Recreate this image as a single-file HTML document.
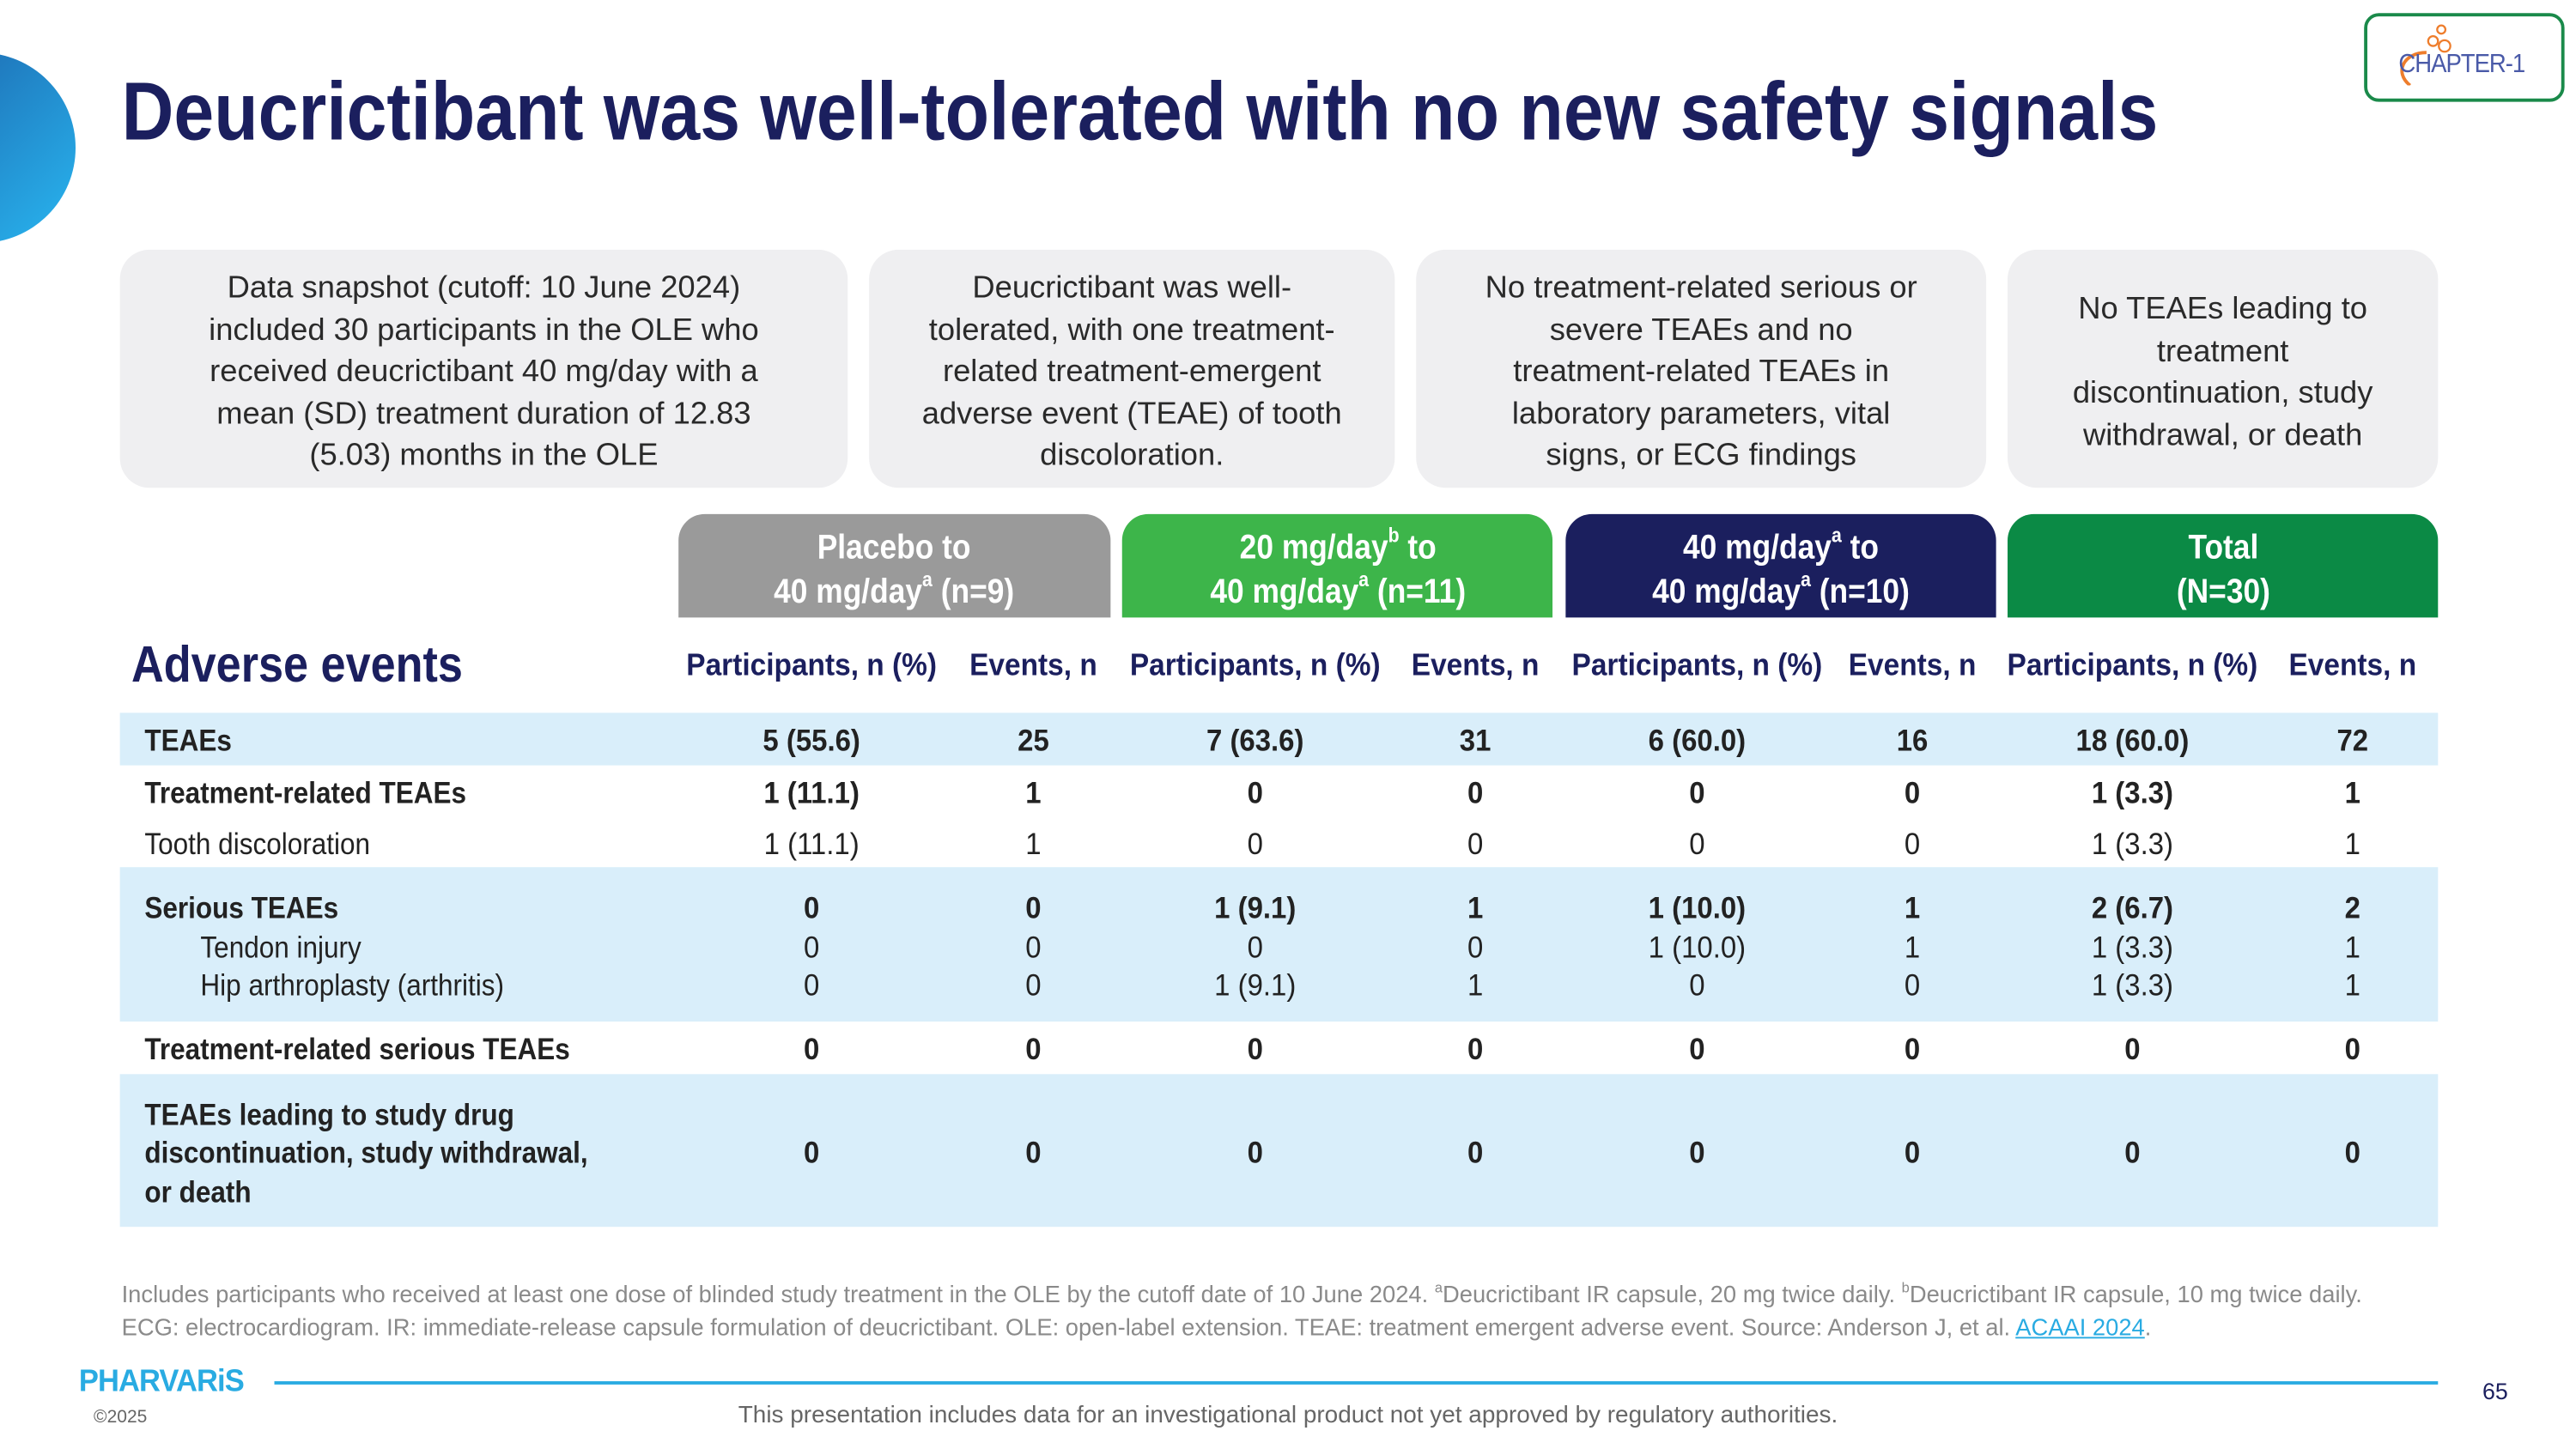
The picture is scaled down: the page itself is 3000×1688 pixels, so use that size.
<!DOCTYPE html>
<html><head><meta charset="utf-8"><style>
html,body{margin:0;padding:0;background:#fff;width:3000px;height:1687px;overflow:hidden}
#s{position:absolute;left:0;top:0;width:1568px;height:882px;transform:scale(1.91327);transform-origin:0 0;font-family:"Liberation Sans",sans-serif;color:#222}
.a{position:absolute}
.box{position:absolute;top:152px;height:145px;box-sizing:border-box;padding-top:5px;background:#efeff1;border-radius:18px;display:flex;align-items:center;justify-content:center;text-align:center;font-size:19px;line-height:25.5px;color:#2a2a2a}
.tab{position:absolute;top:313px;height:63px;box-sizing:border-box;padding-top:4px;border-radius:16px 16px 0 0;color:#fff;font-weight:bold;font-size:21px;line-height:27px;display:flex;align-items:center;justify-content:center;text-align:center}
.tab span{display:inline-block;transform:scaleX(.88);white-space:nowrap}
.ch{position:absolute;top:395px;font-size:19px;font-weight:bold;color:#1b1f5e;transform:translateX(-50%) scaleX(.92);white-space:nowrap}
.band{position:absolute;left:73px;width:1411px;background:#d9eefa}
.lbl{position:absolute;left:88px;font-size:18.5px;white-space:nowrap;transform:scaleX(.89);transform-origin:0 0}
.v{position:absolute;font-size:18.5px;transform:translateX(-50%) scaleX(.93);white-space:nowrap}
.b{font-weight:bold}
sup{font-size:60%;vertical-align:top;line-height:1}
</style></head><body>
<div id="s">
<svg class="a" style="left:0;top:20px" width="50" height="145"><defs><linearGradient id="g" x1="0" y1="0" x2="1" y2="1"><stop offset="0" stop-color="#1b5fa8"/><stop offset="1" stop-color="#29b6f0"/></linearGradient></defs><circle cx="-12" cy="70" r="58" fill="url(#g)"/></svg>
<div class="a b" style="left:74px;top:39px;font-size:50px;color:#1b1f5e;white-space:nowrap;transform:scaleX(.88);transform-origin:0 0">Deucrictibant was well-tolerated with no new safety signals</div>
<div class="a" style="left:1439px;top:8px;width:122px;height:54px;border:2.5px solid #1a8a4a;border-radius:9px;box-sizing:border-box;background:#fff">
<svg class="a" style="left:14px;top:2px" width="40" height="40"><circle cx="31" cy="6" r="2.5" fill="none" stroke="#ee7d2c" stroke-width="1.2"/><circle cx="26" cy="13" r="3" fill="none" stroke="#ee7d2c" stroke-width="1.2"/><circle cx="33" cy="16" r="3.5" fill="none" stroke="#ee7d2c" stroke-width="1.2"/><path d="M22 20 C8 20 2 32 12 40" fill="none" stroke="#ee7d2c" stroke-width="2"/></svg>
<div class="a" style="left:19px;top:21px;font-size:16px;color:#4a5aa8;letter-spacing:-0.6px;transform:scaleX(.9);transform-origin:0 0">CHAPTER-1</div></div>

<div class="box" style="left:73px;width:443px">Data snapshot (cutoff: 10 June 2024)<br>included 30 participants in the OLE who<br>received deucrictibant 40 mg/day with a<br>mean (SD) treatment duration of 12.83<br>(5.03) months in the OLE</div>
<div class="box" style="left:529px;width:320px">Deucrictibant was well-<br>tolerated, with one treatment-<br>related treatment-emergent<br>adverse event (TEAE) of tooth<br>discoloration.</div>
<div class="box" style="left:862px;width:347px">No treatment-related serious or<br>severe TEAEs and no<br>treatment-related TEAEs in<br>laboratory parameters, vital<br>signs, or ECG findings</div>
<div class="box" style="left:1222px;width:262px">No TEAEs leading to<br>treatment<br>discontinuation, study<br>withdrawal, or death</div>

<div class="tab" style="left:413px;width:263px;background:#9a9a9a"><span>Placebo to<br>40 mg/day<sup>a</sup> (n=9)</span></div>
<div class="tab" style="left:683px;width:262px;background:#3db54a"><span>20 mg/day<sup>b</sup> to<br>40 mg/day<sup>a</sup> (n=11)</span></div>
<div class="tab" style="left:953px;width:262px;background:#1b1f5e"><span>40 mg/day<sup>a</sup> to<br>40 mg/day<sup>a</sup> (n=10)</span></div>
<div class="tab" style="left:1222px;width:262px;background:#0b8a45"><span>Total<br>(N=30)</span></div>

<div class="a b" style="left:80px;top:387px;font-size:31px;color:#1b1f5e;transform:scaleX(.88);transform-origin:0 0">Adverse events</div>
<div class="ch" style="left:494px">Participants, n (%)</div>
<div class="ch" style="left:629px">Events, n</div>
<div class="ch" style="left:764px">Participants, n (%)</div>
<div class="ch" style="left:898px">Events, n</div>
<div class="ch" style="left:1033px">Participants, n (%)</div>
<div class="ch" style="left:1164px">Events, n</div>
<div class="ch" style="left:1298px">Participants, n (%)</div>
<div class="ch" style="left:1432px">Events, n</div>

<div class="band" style="top:434px;height:32px"></div>
<div class="band" style="top:528px;height:94px"></div>
<div class="band" style="top:654px;height:93px"></div>
<div id="rows"></div>

<div class="a" style="left:74px;top:780px;font-size:14.3px;line-height:19.5px;color:#8a8a8a;white-space:nowrap">Includes participants who received at least one dose of blinded study treatment in the OLE by the cutoff date of 10 June 2024. <sup>a</sup>Deucrictibant IR capsule, 20 mg twice daily. <sup>b</sup>Deucrictibant IR capsule, 10 mg twice daily.<br>ECG: electrocardiogram. IR: immediate-release capsule formulation of deucrictibant. OLE: open-label extension. TEAE: treatment emergent adverse event. Source: Anderson J, et al. <span style="color:#29abe2;text-decoration:underline">ACAAI 2024</span>.</div>
<div class="a b" style="left:48px;top:831px;font-size:19px;color:#29abe2;letter-spacing:-0.5px;transform:scaleX(.95);transform-origin:0 0">PHARVARiS</div>
<div class="a" style="left:57px;top:857px;font-size:11px;color:#666">©2025</div>
<div class="a" style="left:167px;top:841px;width:1317px;height:1.5px;background:#29abe2"></div>
<div class="a" style="left:1511px;top:839px;font-size:14px;color:#1b1f5e">65</div>
<div class="a" style="left:784px;top:854px;font-size:14.6px;color:#666;transform:translateX(-50%);white-space:nowrap">This presentation includes data for an investigational product not yet approved by regulatory authorities.</div>
</div>
<script>
const colX=[494,629,764,898,1033,1164,1298,1432];
const rowLabels=["TEAEs","Treatment-related TEAEs","Tooth discoloration","Serious TEAEs","Tendon injury","Hip arthroplasty (arthritis)","Treatment-related serious TEAEs","TEAEs leading to study drug<br>discontinuation, study withdrawal,<br>or death"];
const rowY=[451,483,514,553,577,600,639,702];
const rowBold=[1,1,0,1,0,0,1,1];
const rowIndent=[0,0,0,0,1,1,0,0];
const values=[
["5 (55.6)","25","7 (63.6)","31","6 (60.0)","16","18 (60.0)","72"],
["1 (11.1)","1","0","0","0","0","1 (3.3)","1"],
["1 (11.1)","1","0","0","0","0","1 (3.3)","1"],
["0","0","1 (9.1)","1","1 (10.0)","1","2 (6.7)","2"],
["0","0","0","0","1 (10.0)","1","1 (3.3)","1"],
["0","0","1 (9.1)","1","0","0","1 (3.3)","1"],
["0","0","0","0","0","0","0","0"],
["0","0","0","0","0","0","0","0"]];
const R=document.getElementById('rows');
rowLabels.forEach((l,i)=>{
 const d=document.createElement('div');
 d.className='lbl'+(rowBold[i]?' b':'');
 
 
 d.innerHTML=l;
 const lines=l.split('<br>').length;
 d.style.lineHeight='23.5px';
 d.style.top=(rowY[i]-11.75*lines)+'px';
 if(rowIndent[i])d.style.left='122px';
 R.appendChild(d);
 values[i].forEach((v,j)=>{
  const c=document.createElement('div');
  c.className='v'+(rowBold[i]?' b':'');
  
  
  c.textContent=v;
  c.style.left=colX[j]+'px';
  c.style.top=(rowY[i]-11)+'px';
  R.appendChild(c);
 });
});
</script>
</body></html>
